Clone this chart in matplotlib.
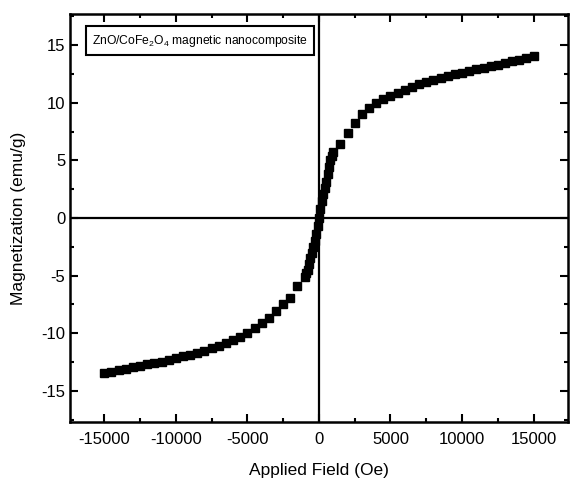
import numpy as np
import matplotlib
matplotlib.use("Agg")
import matplotlib.pyplot as plt
from matplotlib.ticker import MultipleLocator

plt.rcParams['font.family'] = ['Liberation Sans', 'DejaVu Sans']
plt.rcParams['mathtext.fontset'] = 'custom'
plt.rcParams['mathtext.rm'] = 'Liberation Sans'
plt.rcParams['mathtext.it'] = 'Liberation Sans'
plt.rcParams['axes.unicode_minus'] = False

# applied field (Oe) and magnetization (emu/g)
field_neg = [-15000, -14500, -14000, -13500, -13000, -12500, -12000, -11500,
             -11000, -10500, -10000, -9500, -9000, -8500, -8000, -7500, -7000,
             -6500, -6000, -5500, -5000, -4500, -4000, -3500, -3000, -2500,
             -2000, -1500]
mag_neg = [-13.45, -13.35, -13.2, -13.1, -12.95, -12.85, -12.7, -12.6,
           -12.45, -12.3, -12.15, -12.0, -11.85, -11.7, -11.5, -11.3, -11.1,
           -10.85, -10.6, -10.3, -10.0, -9.5, -9.1, -8.65, -8.1, -7.5,
           -6.9, -5.9]
field_mid = [-1000, -900, -800, -700, -600, -500, -400, -300, -200, -100, 0,
             100, 200, 300, 400, 500, 600, 700, 800, 900, 1000]
mag_mid = [-5.1, -4.8, -4.5, -4.0, -3.5, -3.0, -2.5, -2.0, -1.4, -0.7, 0.0,
           0.8, 1.5, 2.1, 2.6, 3.1, 3.8, 4.4, 5.0, 5.4, 5.7]
field_pos = [1500, 2000, 2500, 3000, 3500, 4000, 4500, 5000, 5500, 6000, 6500,
             7000, 7500, 8000, 8500, 9000, 9500, 10000, 10500, 11000, 11500,
             12000, 12500, 13000, 13500, 14000, 14500, 15000]
mag_pos = [6.4, 7.4, 8.2, 9.0, 9.5, 9.95, 10.3, 10.6, 10.85, 11.1, 11.35,
           11.6, 11.8, 12.0, 12.15, 12.3, 12.45, 12.6, 12.75, 12.9, 13.0,
           13.15, 13.3, 13.45, 13.6, 13.75, 13.9, 14.05]

H = field_neg + field_mid + field_pos
M = mag_neg + mag_mid + mag_pos

fig = plt.figure(figsize=(5.71, 4.94), dpi=100)
ax = fig.add_axes([0.1226, 0.1457, 0.872, 0.826])

ax.axhline(0, color='black', lw=1.6, zorder=1)
ax.axvline(0, color='black', lw=1.6, zorder=1)
ax.plot(H, M, 's', color='black', markersize=6, zorder=3)

ax.set_xlim(-17400, 17400)
ax.set_ylim(-17.7, 17.7)
ax.xaxis.set_major_locator(MultipleLocator(5000))
ax.xaxis.set_minor_locator(MultipleLocator(2500))
ax.yaxis.set_major_locator(MultipleLocator(5))
ax.yaxis.set_minor_locator(MultipleLocator(2.5))
ax.tick_params(which='both', direction='in', top=True, right=True,
               width=1.5, labelsize=12)
ax.tick_params(which='major', length=6)
ax.tick_params(which='minor', length=3)
ax.tick_params(axis='x', pad=7)
for s in ax.spines.values():
    s.set_linewidth(1.8)

ax.set_xlabel('Applied Field (Oe)', fontsize=12.5, labelpad=12)
ax.set_ylabel('Magnetization (emu/g)', fontsize=12.5, labelpad=11)

ax.text(0.045, 0.935, r'ZnO/CoFe$_2$O$_4$ magnetic nanocomposite',
        transform=ax.transAxes, fontsize=8.7, va='center', ha='left',
        bbox=dict(boxstyle='square,pad=0.5', fc='white', ec='black', lw=1.5))

fig.savefig('out.png', dpi=100)
